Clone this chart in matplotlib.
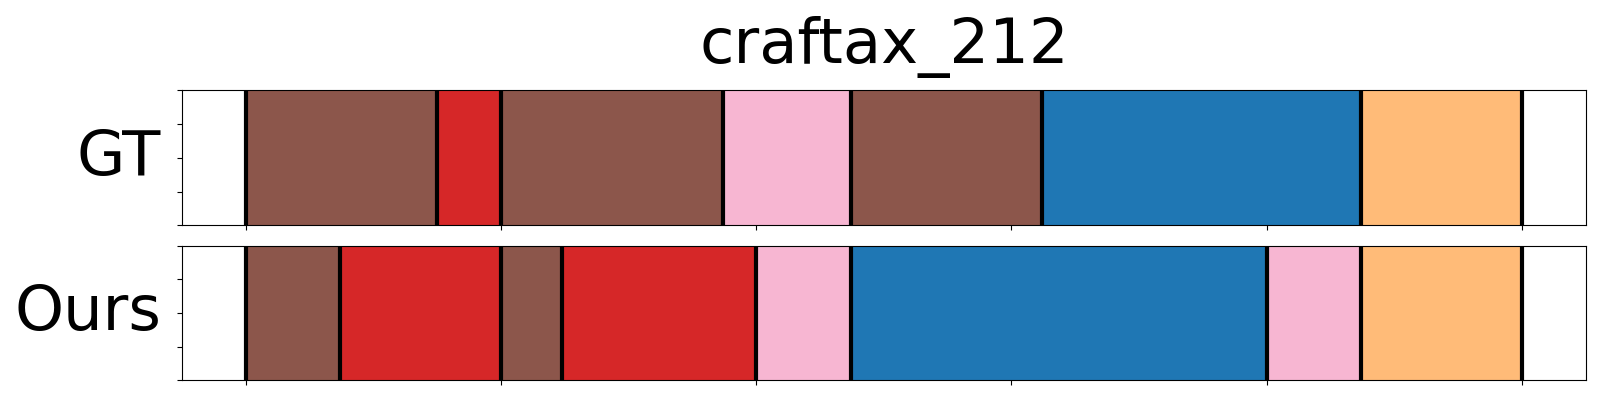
import numpy as np
import matplotlib
matplotlib.use("Agg")
import matplotlib.pyplot as plt

# segment boundaries (frames) and action colours for each row
title = "craftax_212"
row_names = ["GT", "Ours"]

gt_bounds = [0, 75, 100, 187, 237, 312, 437, 500]
gt_colors = ["#8c564b", "#d62728", "#8c564b", "#f7b6d2", "#8c564b", "#1f77b4", "#ffbb78"]

ours_bounds = [0, 37, 100, 124, 200, 237, 400, 437, 500]
ours_colors = ["#8c564b", "#d62728", "#8c564b", "#d62728", "#f7b6d2", "#1f77b4", "#f7b6d2", "#ffbb78"]

rows = [(gt_bounds, gt_colors), (ours_bounds, ours_colors)]

fig, axes = plt.subplots(2, 1, figsize=(16, 4), dpi=100, sharex=True)
fig.subplots_adjust(left=0.1136, right=0.9912, top=0.774, bottom=0.049, hspace=0.15)

for ax, name, (bounds, colors) in zip(axes, row_names, rows):
    for i in range(len(colors)):
        ax.axvspan(bounds[i], bounds[i + 1], color=colors[i], lw=0)
    for b in bounds:
        ax.axvline(b, color="black", lw=3)
    ax.set_ylim(0, 1)
    ax.set_yticks(np.linspace(0, 1, 5))
    ax.set_yticklabels([])
    ax.set_xticks(np.arange(0, 501, 100))
    ax.set_xticklabels([])
    ax.set_ylabel(name, fontsize=45, rotation=0, ha="right", va="center", labelpad=8)

axes[0].set_title(title, fontsize=45, pad=20)

plt.savefig("out.png")
